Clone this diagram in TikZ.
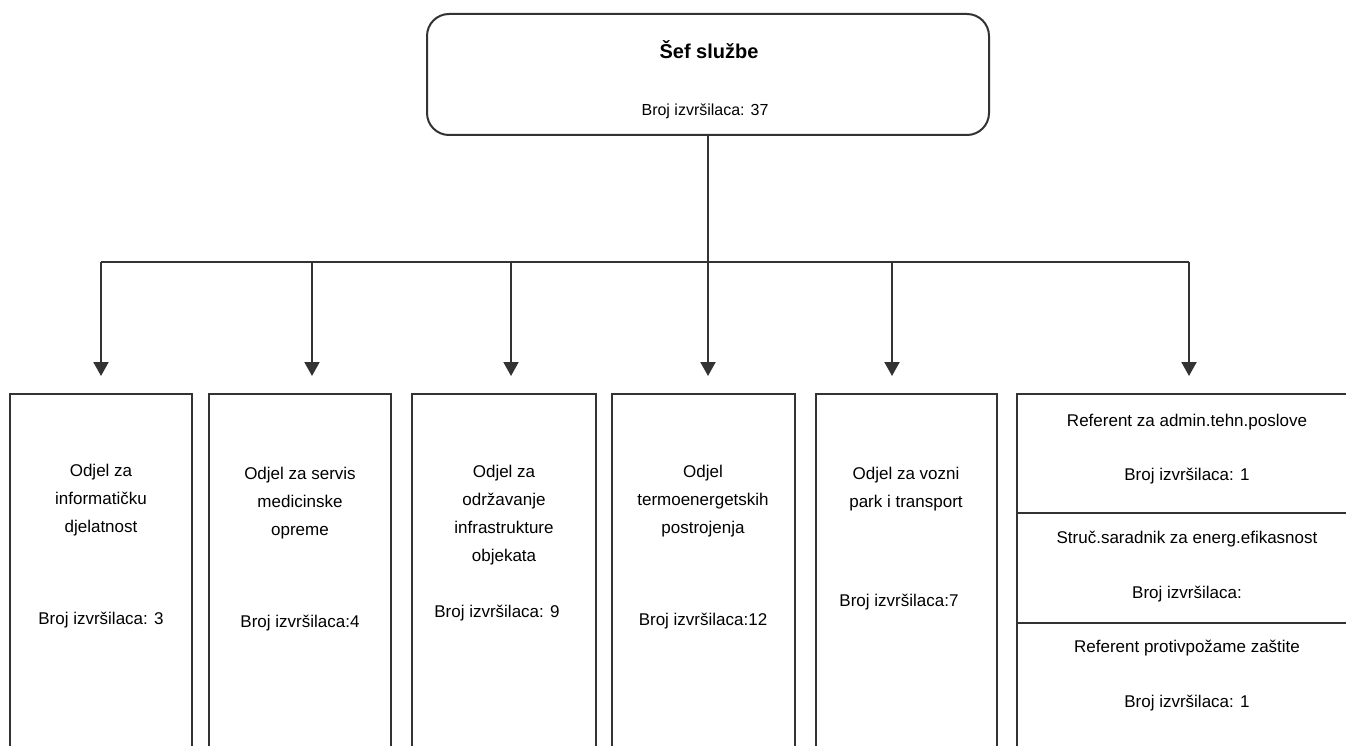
\documentclass[tikz,border=0pt]{standalone}
\usepackage{fontspec}
\setmainfont{Liberation Sans}
\usetikzlibrary{arrows.meta}
\begin{document}
\begin{tikzpicture}[x=1pt,y=-1pt,
  every node/.style={inner sep=0pt, outer sep=0pt},
  box/.style={draw=black!80, line width=2pt, rectangle},
  txt/.style={font=\fontsize{17}{28}\selectfont, align=center, text=black},
  arr/.style={draw=black!80, line width=2pt, -{Triangle[length=14pt,width=15pt]}, shorten >=18pt},
  ln/.style={draw=black!80, line width=2pt}]
\useasboundingbox (0,0) rectangle (1346,746);
\clip (0,0) rectangle (1346,746);
% top box
\node[box, rounded corners=22pt, minimum width=562pt, minimum height=121pt] (top) at (708,74.5) {};
\node[font=\bfseries\fontsize{20}{24}\selectfont] (title) at (709,50) {Šef službe};
\node[txt, font=\fontsize{16}{20}\selectfont] (topc) at (705,111) {Broj izvršilaca: 37};
% department boxes
\node[box, minimum width=182pt, minimum height=380pt] (b1) at (101,584) {};
\node[box, minimum width=182pt, minimum height=380pt] (b2) at (300,584) {};
\node[box, minimum width=184pt, minimum height=380pt] (b3) at (504,584) {};
\node[box, minimum width=183pt, minimum height=380pt] (b4) at (703.5,584) {};
\node[box, minimum width=181pt, minimum height=380pt] (b5) at (906.5,584) {};
\node[box, minimum width=340pt, minimum height=380pt] (b6) at (1187,584) {};
% bus
\coordinate (bus1) at (101,262);
\coordinate (bus2) at (312,262);
\coordinate (bus3) at (511,262);
\coordinate (bus4) at (708,262);
\coordinate (bus5) at (892,262);
\coordinate (bus6) at (1189,262);
\draw[ln] (top.south) -- (bus4);
\draw[ln] (bus1) -- (bus6);
\draw[arr] (bus1) -- (bus1 |- b1.north);
\draw[arr] (bus2) -- (bus2 |- b2.north);
\draw[arr] (bus3) -- (bus3 |- b3.north);
\draw[arr] (bus4) -- (bus4 |- b4.north);
\draw[arr] (bus5) -- (bus5 |- b5.north);
\draw[arr] (bus6) -- (bus6 |- b6.north);
% dividers in box 6
\coordinate (d1) at (0,513);
\coordinate (d2) at (0,623);
\draw[ln] (b6.west |- d1) -- (b6.east |- d1);
\draw[ln] (b6.west |- d2) -- (b6.east |- d2);
% texts
\node[txt] (t1) at (101,500) {Odjel za\\informatičku\\djelatnost};
\node[txt] (n1) at (101,620) {Broj izvršilaca: 3};
\node[txt] (t2) at (300,503) {Odjel za servis\\medicinske\\opreme};
\node[txt] (n2) at (300,623) {Broj izvršilaca:4};
\node[txt] (t3) at (504,515) {Odjel za\\održavanje\\infrastrukture\\objekata};
\node[txt] (n3) at (497,613) {Broj izvršilaca: 9};
\node[txt] (t4) at (703,501) {Odjel\\termoenergetskih\\postrojenja};
\node[txt] (n4) at (703,621) {Broj izvršilaca:12};
\node[txt] (t5) at (906,489) {Odjel za vozni\\park i transport};
\node[txt] (n5) at (899,602) {Broj izvršilaca:7};
\node[txt] (r1) at (1187,422) {Referent za admin.tehn.poslove};
\node[txt] (c1) at (1187,476) {Broj izvršilaca: 1};
\node[txt] (r2) at (1187,539) {Struč.saradnik za energ.efikasnost};
\node[txt] (c2) at (1187,594) {Broj izvršilaca:};
\node[txt] (r3) at (1187,648) {Referent protivpožame zaštite};
\node[txt] (c3) at (1187,703) {Broj izvršilaca: 1};
\end{tikzpicture}
\end{document}
